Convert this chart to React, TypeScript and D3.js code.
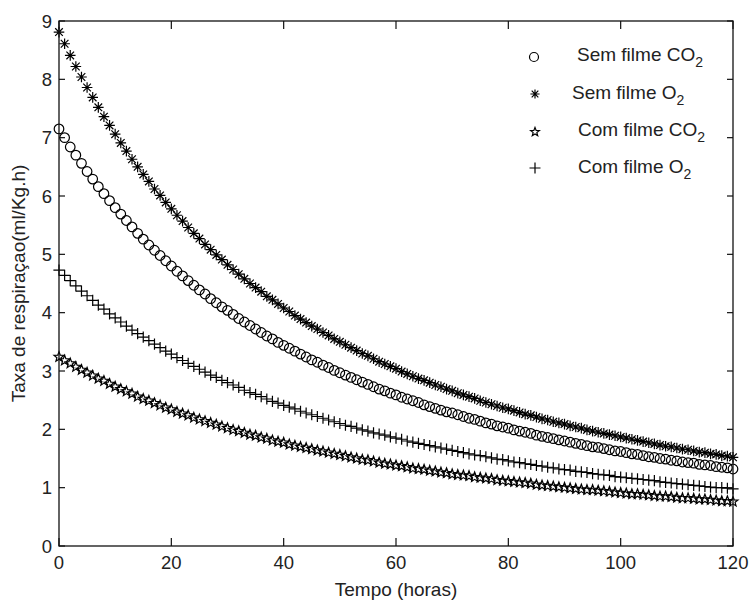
import React from 'react';
import * as d3 from 'd3';

const xTicks = [0, 20, 40, 60, 80, 100, 120];
const yTicks = [0, 1, 2, 3, 4, 5, 6, 7, 8, 9];

// Sem filme CO2 (circles), one value per hour 0..120
const semFilmeCO2 = [
  7.15, 7.00, 6.84, 6.70, 6.56, 6.42, 6.29, 6.16, 6.04, 5.92,
  5.80, 5.69, 5.58, 5.47, 5.36, 5.26, 5.16, 5.07, 4.98, 4.89,
  4.80, 4.71, 4.63, 4.55, 4.47, 4.39, 4.32, 4.24, 4.17, 4.10,
  4.04, 3.97, 3.90, 3.84, 3.78, 3.72, 3.66, 3.60, 3.55, 3.49,
  3.44, 3.39, 3.34, 3.29, 3.24, 3.19, 3.15, 3.10, 3.06, 3.01,
  2.97, 2.93, 2.89, 2.85, 2.81, 2.77, 2.73, 2.69, 2.66, 2.62,
  2.59, 2.55, 2.52, 2.49, 2.46, 2.42, 2.39, 2.36, 2.33, 2.30,
  2.28, 2.25, 2.22, 2.19, 2.17, 2.14, 2.11, 2.09, 2.06, 2.04,
  2.02, 1.99, 1.97, 1.95, 1.93, 1.90, 1.88, 1.86, 1.84, 1.82,
  1.80, 1.78, 1.76, 1.74, 1.72, 1.70, 1.69, 1.67, 1.65, 1.63,
  1.62, 1.60, 1.58, 1.57, 1.55, 1.53, 1.52, 1.50, 1.49, 1.47,
  1.46, 1.44, 1.43, 1.42, 1.40, 1.39, 1.38, 1.36, 1.35, 1.34, 1.32,
];

// Sem filme O2 (asterisks)
const semFilmeO2 = [
  8.81, 8.61, 8.41, 8.22, 8.04, 7.86, 7.69, 7.52, 7.36, 7.21,
  7.06, 6.91, 6.77, 6.63, 6.50, 6.37, 6.25, 6.12, 6.01, 5.89,
  5.78, 5.67, 5.57, 5.46, 5.36, 5.27, 5.17, 5.08, 4.99, 4.91,
  4.82, 4.74, 4.66, 4.58, 4.50, 4.43, 4.36, 4.28, 4.22, 4.15,
  4.08, 4.02, 3.95, 3.89, 3.83, 3.77, 3.72, 3.66, 3.61, 3.55,
  3.50, 3.45, 3.40, 3.35, 3.30, 3.26, 3.21, 3.16, 3.12, 3.08,
  3.04, 2.99, 2.95, 2.91, 2.87, 2.84, 2.80, 2.76, 2.73, 2.69,
  2.66, 2.62, 2.59, 2.56, 2.53, 2.49, 2.46, 2.43, 2.40, 2.37,
  2.35, 2.32, 2.29, 2.26, 2.24, 2.21, 2.18, 2.16, 2.13, 2.11,
  2.09, 2.06, 2.04, 2.02, 1.99, 1.97, 1.95, 1.93, 1.91, 1.89,
  1.87, 1.85, 1.83, 1.81, 1.79, 1.77, 1.75, 1.73, 1.71, 1.70,
  1.68, 1.66, 1.65, 1.63, 1.61, 1.60, 1.58, 1.57, 1.55, 1.54, 1.52,
];

// Com filme CO2 (pentagrams)
const comFilmeCO2 = [
  3.24, 3.18, 3.13, 3.07, 3.02, 2.97, 2.92, 2.87, 2.83, 2.78,
  2.73, 2.69, 2.65, 2.61, 2.56, 2.52, 2.49, 2.45, 2.41, 2.37,
  2.34, 2.30, 2.27, 2.24, 2.20, 2.17, 2.14, 2.11, 2.08, 2.05,
  2.02, 1.99, 1.97, 1.94, 1.91, 1.89, 1.86, 1.84, 1.81, 1.79,
  1.77, 1.74, 1.72, 1.70, 1.68, 1.66, 1.64, 1.62, 1.60, 1.58,
  1.56, 1.54, 1.52, 1.50, 1.48, 1.47, 1.45, 1.43, 1.41, 1.40,
  1.38, 1.37, 1.35, 1.33, 1.32, 1.31, 1.29, 1.28, 1.26, 1.25,
  1.23, 1.22, 1.21, 1.20, 1.18, 1.17, 1.16, 1.15, 1.13, 1.12,
  1.11, 1.10, 1.09, 1.08, 1.07, 1.05, 1.04, 1.03, 1.02, 1.01,
  1.00, 0.99, 0.98, 0.97, 0.96, 0.96, 0.95, 0.94, 0.93, 0.92,
  0.91, 0.90, 0.89, 0.89, 0.88, 0.87, 0.86, 0.85, 0.85, 0.84,
  0.83, 0.82, 0.82, 0.81, 0.80, 0.80, 0.79, 0.78, 0.77, 0.77, 0.76,
];

// Com filme O2 (plus signs)
const comFilmeO2 = [
  4.73, 4.64, 4.55, 4.46, 4.37, 4.29, 4.21, 4.13, 4.06, 3.98,
  3.91, 3.84, 3.77, 3.70, 3.64, 3.58, 3.52, 3.46, 3.40, 3.34,
  3.29, 3.23, 3.18, 3.13, 3.08, 3.03, 2.98, 2.93, 2.89, 2.84,
  2.80, 2.76, 2.72, 2.67, 2.63, 2.60, 2.56, 2.52, 2.48, 2.45,
  2.41, 2.38, 2.35, 2.31, 2.28, 2.25, 2.22, 2.19, 2.16, 2.13,
  2.10, 2.07, 2.05, 2.02, 1.99, 1.97, 1.94, 1.92, 1.90, 1.87,
  1.85, 1.83, 1.80, 1.78, 1.76, 1.74, 1.72, 1.70, 1.68, 1.66,
  1.64, 1.62, 1.60, 1.58, 1.56, 1.55, 1.53, 1.51, 1.49, 1.48,
  1.46, 1.44, 1.43, 1.41, 1.40, 1.38, 1.37, 1.35, 1.34, 1.32,
  1.31, 1.30, 1.28, 1.27, 1.26, 1.24, 1.23, 1.22, 1.21, 1.19,
  1.18, 1.17, 1.16, 1.15, 1.14, 1.13, 1.12, 1.10, 1.09, 1.08,
  1.07, 1.06, 1.05, 1.04, 1.03, 1.02, 1.01, 1.00, 1.00, 0.99, 0.98,
];

const hours = semFilmeCO2.map((_, i) => i);

const legendLabels = [
  { base: 'Sem filme CO', sub: '2', marker: 'circle' },
  { base: 'Sem filme O', sub: '2', marker: 'asterisk' },
  { base: 'Com filme CO', sub: '2', marker: 'star' },
  { base: 'Com filme O', sub: '2', marker: 'plus' },
];

const FONT = '"Liberation Sans", Arial, Helvetica, sans-serif';

function markerPath(kind: string, s: number): string {
  if (kind === 'asterisk') {
    const d = s * 0.72;
    return `M0,${-s}L0,${s}M${-s},0L${s},0M${-d},${-d}L${d},${d}M${-d},${d}L${d},${-d}`;
  }
  if (kind === 'plus') {
    return `M0,${-s}L0,${s}M${-s},0L${s},0`;
  }
  if (kind === 'star') {
    const pts: string[] = [];
    for (let i = 0; i < 10; i++) {
      const r = i % 2 === 0 ? s : s * 0.42;
      const a = -Math.PI / 2 + (i * Math.PI) / 5;
      pts.push(`${(r * Math.cos(a)).toFixed(2)},${(r * Math.sin(a)).toFixed(2)}`);
    }
    return 'M' + pts.join('L') + 'Z';
  }
  return '';
}

function Marker({ kind, cx, cy, size, sw }: { kind: string; cx: number; cy: number; size: number; sw: number }) {
  if (kind === 'circle') {
    return <circle cx={cx} cy={cy} r={size} fill="none" stroke="#000" strokeWidth={sw} />;
  }
  return (
    <path
      d={markerPath(kind, size)}
      transform={`translate(${cx},${cy})`}
      fill="none"
      stroke="#000"
      strokeWidth={sw}
    />
  );
}

export default function App() {
  const left = 59, right = 733, top = 21, bottom = 546;
  const x = d3.scaleLinear().domain([0, 120]).range([left, right]);
  const y = d3.scaleLinear().domain([0, 9]).range([bottom, top]);

  const series = [
    { data: semFilmeCO2, kind: 'circle', size: 4.8 },
    { data: semFilmeO2, kind: 'asterisk', size: 5.3 },
    { data: comFilmeCO2, kind: 'star', size: 5.2 },
    { data: comFilmeO2, kind: 'plus', size: 5.6 },
  ];

  const legendY = [57, 94, 132, 168];
  const legendTextX = [577, 572, 578, 578];
  const legendTextY = [61, 99, 136, 173];

  return (
    <svg
      width={750}
      height={603}
      style={{ position: 'absolute', left: 0, top: 0, background: '#fff' }}
      fontFamily={FONT}
    >
      <rect x={0} y={0} width={750} height={603} fill="#fff" />
      {series.map((s, si) => (
        <g key={si}>
          {hours.map((h, i) => (
            <Marker key={i} kind={s.kind} cx={x(h)} cy={y(s.data[i])} size={s.size} sw={1.2} />
          ))}
        </g>
      ))}
      <rect x={left} y={top} width={right - left} height={bottom - top} fill="none" stroke="#111" strokeWidth={1.3} />
      {xTicks.map((t) => (
        <g key={'x' + t}>
          <line x1={x(t)} x2={x(t)} y1={bottom} y2={bottom - 8} stroke="#111" strokeWidth={1.2} />
          <line x1={x(t)} x2={x(t)} y1={top} y2={top + 8} stroke="#111" strokeWidth={1.2} />
          <text x={x(t)} y={569} textAnchor="middle" fontSize={18.5} fill="#222">
            {t}
          </text>
        </g>
      ))}
      {yTicks.map((t) => (
        <g key={'y' + t}>
          <line x1={left} x2={left + 6} y1={y(t)} y2={y(t)} stroke="#111" strokeWidth={1.2} />
          <line x1={right} x2={right - 6} y1={y(t)} y2={y(t)} stroke="#111" strokeWidth={1.2} />
          <text x={52} y={y(t) + 6.5} textAnchor="end" fontSize={18.5} fill="#222">
            {t}
          </text>
        </g>
      ))}
      <text x={(left + right) / 2} y={596} textAnchor="middle" fontSize={19} fill="#222">
        Tempo (horas)
      </text>
      <text
        transform={`translate(25,${(top + bottom) / 2}) rotate(-90)`}
        textAnchor="middle"
        fontSize={19}
        fill="#222"
      >
        Taxa de respiraçao(ml/Kg.h)
      </text>
      {legendLabels.map((l, i) => (
        <g key={'l' + i}>
          <Marker
            kind={l.marker}
            cx={i === 0 ? 534 : 535}
            cy={legendY[i]}
            size={l.marker === 'plus' ? 5.5 : l.marker === 'circle' ? 4.5 : 4.6}
            sw={1.2}
          />
          <text x={legendTextX[i]} y={legendTextY[i]} fontSize={19} fill="#222">
            <tspan>{l.base}</tspan>
            <tspan dy={6} fontSize={14}>{l.sub}</tspan>
          </text>
        </g>
      ))}
    </svg>
  );
}
